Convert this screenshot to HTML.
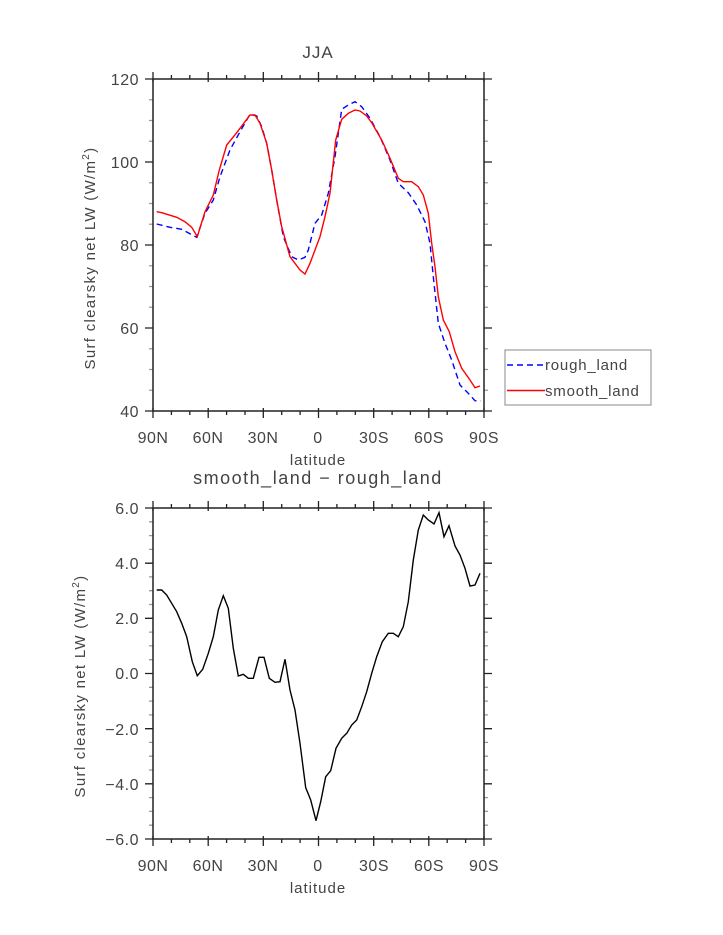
<!DOCTYPE html>
<html><head><meta charset="utf-8"><style>body{margin:0;background:#fff}svg{display:block}</style></head><body>
<svg width="723" height="935" viewBox="0 0 723 935" xmlns="http://www.w3.org/2000/svg" font-family="Liberation Sans, DejaVu Sans, sans-serif" fill="#444">
<g stroke="#222" stroke-width="1.3" fill="none">
<path d="M153,72v10M208.2,72v10M263.3,72v10M318.5,72v10M373.7,72v10M428.8,72v10M484,72v10
M153,408v10M208.2,408v10M263.3,408v10M318.5,408v10M373.7,408v10M428.8,408v10M484,408v10
M171.4,75v4M189.8,75v4M226.6,75v4M245,75v4M281.7,75v4M300.1,75v4M336.9,75v4M355.3,75v4M392.1,75v4M410.4,75v4M447.2,75v4M465.6,75v4
M171.4,411v4M189.8,411v4M226.6,411v4M245,411v4M281.7,411v4M300.1,411v4M336.9,411v4M355.3,411v4M392.1,411v4M410.4,411v4M447.2,411v4M465.6,411v4
M153,501v10M208.2,501v10M263.3,501v10M318.5,501v10M373.7,501v10M428.8,501v10M484,501v10
M153,836v10M208.2,836v10M263.3,836v10M318.5,836v10M373.7,836v10M428.8,836v10M484,836v10
M171.4,504v4M189.8,504v4M226.6,504v4M245,504v4M281.7,504v4M300.1,504v4M336.9,504v4M355.3,504v4M392.1,504v4M410.4,504v4M447.2,504v4M465.6,504v4
M171.4,839v4M189.8,839v4M226.6,839v4M245,839v4M281.7,839v4M300.1,839v4M336.9,839v4M355.3,839v4M392.1,839v4M410.4,839v4M447.2,839v4M465.6,839v4
M145,79h8M145,162h8M145,245h8M145,328h8M145,411h8M484,79h8M484,162h8M484,245h8M484,328h8M484,411h8
M145,508h8M145,563.2h8M145,618.3h8M145,673.5h8M145,728.7h8M145,783.8h8M145,839h8
M484,508h8M484,563.2h8M484,618.3h8M484,673.5h8M484,728.7h8M484,783.8h8M484,839h8"/>
<path stroke="#999" d="M149,99.75h4M149,120.5h4M149,141.25h4M149,182.75h4M149,203.5h4M149,224.25h4M149,265.75h4M149,286.5h4M149,307.25h4M149,348.75h4M149,369.5h4M149,390.25h4
M484,99.75h4M484,120.5h4M484,141.25h4M484,182.75h4M484,203.5h4M484,224.25h4M484,265.75h4M484,286.5h4M484,307.25h4M484,348.75h4M484,369.5h4M484,390.25h4
M149,521.8h4M149,535.6h4M149,549.4h4M149,576.9h4M149,590.7h4M149,604.5h4M149,632.1h4M149,645.9h4M149,659.7h4M149,687.3h4M149,701.1h4M149,714.9h4M149,742.4h4M149,756.2h4M149,770h4M149,797.6h4M149,811.4h4M149,825.2h4
M484,521.8h4M484,535.6h4M484,549.4h4M484,576.9h4M484,590.7h4M484,604.5h4M484,632.1h4M484,645.9h4M484,659.7h4M484,687.3h4M484,701.1h4M484,714.9h4M484,742.4h4M484,756.2h4M484,770h4M484,797.6h4M484,811.4h4M484,825.2h4"/>
</g>
<rect x="153" y="79" width="331" height="332" fill="none" stroke="#222" stroke-width="1.5"/>
<rect x="153" y="508" width="331" height="331" fill="none" stroke="#222" stroke-width="1.5"/>
<text x="318" y="58" font-size="17" text-anchor="middle" letter-spacing="1">JJA</text>
<text x="318" y="484" font-size="18" text-anchor="middle" letter-spacing="1.5">smooth_land − rough_land</text>
<text x="318" y="465" font-size="15" text-anchor="middle" letter-spacing="1">latitude</text>
<text x="318" y="893" font-size="15" text-anchor="middle" letter-spacing="1">latitude</text>
<text transform="translate(95,258) rotate(-90)" font-size="15" text-anchor="middle" letter-spacing="1.3">Surf clearsky net LW (W/m<tspan dy="-6" font-size="10">2</tspan><tspan dy="6">)</tspan></text>
<text transform="translate(85,686) rotate(-90)" font-size="15" text-anchor="middle" letter-spacing="1.3">Surf clearsky net LW (W/m<tspan dy="-6" font-size="10">2</tspan><tspan dy="6">)</tspan></text>
<g font-size="16" text-anchor="end" letter-spacing="0.5">
<text x="139" y="85">120</text><text x="139" y="168">100</text><text x="139" y="251">80</text><text x="139" y="334">60</text><text x="139" y="417">40</text>
<text x="139" y="514">6.0</text><text x="139" y="569">4.0</text><text x="139" y="624">2.0</text><text x="139" y="679">0.0</text><text x="139" y="735">−2.0</text><text x="139" y="790">−4.0</text><text x="139" y="845">−6.0</text>
</g>
<g font-size="16" text-anchor="middle" letter-spacing="0.5">
<text x="153" y="443">90N</text><text x="208" y="443">60N</text><text x="263" y="443">30N</text><text x="318" y="443">0</text><text x="374" y="443">30S</text><text x="429" y="443">60S</text><text x="484" y="443">90S</text>
<text x="153" y="871">90N</text><text x="208" y="871">60N</text><text x="263" y="871">30N</text><text x="318" y="871">0</text><text x="374" y="871">30S</text><text x="429" y="871">60S</text><text x="484" y="871">90S</text>
</g>
<polyline fill="none" stroke="#0000ff" stroke-width="1.4" stroke-dasharray="6,4" points="156.7,224 170,227.3 181.7,229.3 196.7,237.3 205,213.3 213.3,200 220,176.7 230,150 240,131.7 250,114.3 256.7,116 261.7,126.7 266.7,143.3 271.7,170 276.7,200 283.3,236.7 291.7,256.7 298.3,260 305,257.3 308.3,250 315,223.3 321.7,215 328.3,193.3 335,156.7 341.7,109.3 348.3,105 355,101.7 361.7,106.7 370,118.3 380,136.7 390,160 398.3,183.3 408.3,192.7 416.7,205 425,221.7 430,243.3 433.3,276.7 438.3,323.3 445,343.3 451.7,360 460,385 468.3,393.3 475,400.7 480.7,401"/>
<polyline fill="none" stroke="#ff0000" stroke-width="1.4" points="156.7,211.7 161.7,212.7 176.7,217.3 185,221.7 191.7,227.3 197.3,236.7 205,211.7 213.3,195 219.3,170 226.7,145 236.7,132.7 250,115 255,115 260,123.3 266.7,143.3 271.7,170 276.7,200 281.7,226.7 290,256.7 300,270 305,274 310,263.3 315,250 320,236.7 325,216.7 330,193.3 335.7,140 341.7,119.3 348.3,113.3 355,110 360,111 366.7,116 371.7,122.7 381.7,140 390,158.3 398.3,178.3 403.3,181.7 411.7,181.7 418.3,186.7 423.3,195 428.3,213.3 431.7,243.3 435,266.7 438.3,296.7 443.3,320 449.3,331.7 455,351.7 461.7,368.3 470,380 475,387.7 480,386"/>
<polyline fill="none" stroke="#000" stroke-width="1.4" points="156.7,590 161.7,590 166.7,595 176.7,611.7 181.7,623.3 186.7,636.7 192.3,661.7 197.3,675.7 202.7,669.3 208.3,653.3 213.3,636.7 218.3,610 223.3,595.7 228.3,608.3 233.3,648.3 238.3,676 243.3,674.3 248.3,678.3 253.3,678.3 259,657.3 264,657.3 269.3,678.3 275,682.3 280,681.7 285,659.3 290,690 295,710 300,743.3 305.7,787.7 310.7,800 316,820.7 320.7,801.7 325.7,776.7 330.7,770.7 336,748.3 341.7,738.3 346.7,733.3 351.7,725 356.7,720 361.7,706.7 366.7,691.7 371.7,673.3 376.7,656.7 382.3,641.7 388.3,633.3 393.3,633.3 398.3,636.7 403.3,626.7 408.3,601.7 413.3,560 418.3,530 423.3,515 428.3,520 434,524 439,512.7 444,536.7 449,525.7 455,546 460,555 465,568.3 470,586 475,585 480,573.3"/>
<rect x="505" y="350" width="146" height="55" fill="#fff" stroke="#888" stroke-width="1"/>
<line x1="507" y1="365" x2="545" y2="365" stroke="#0000ff" stroke-width="1.4" stroke-dasharray="6,4"/>
<line x1="507" y1="390.5" x2="545" y2="390.5" stroke="#ff0000" stroke-width="1.4"/>
<text x="545" y="370" font-size="15" letter-spacing="0.8">rough_land</text>
<text x="545" y="396" font-size="15" letter-spacing="0.8">smooth_land</text>
</svg>
</body></html>
